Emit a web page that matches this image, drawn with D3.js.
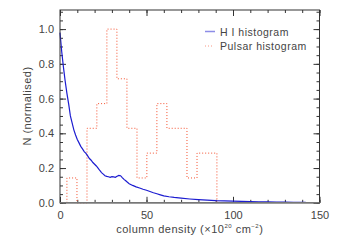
<!doctype HTML>
<html>
<head>
    <style>
        body { margin: 0; background: #fff; }
        text { font-family: "Liberation Sans", Arial, sans-serif; fill: #444; }
    </style>
    <script src="https://d3js.org/d3.v7.min.js"></script>
</head>
<body>
<div id="chart"></div>
<script>

    // H I histogram (column density, normalised N)
    var hiX = [0, 1, 2, 3, 4, 5, 6, 7, 8, 9, 10, 11, 12, 13, 14, 15, 16, 17, 18, 19, 20,
               21, 22, 23, 24, 25, 26, 27, 28, 29, 30, 31, 32, 33, 34, 35, 36, 37, 38, 39, 40,
               42, 44, 46, 48, 50, 52, 54, 56, 58, 60, 63, 66, 70, 75, 80, 85, 90, 95, 100,
               105, 110, 115, 120, 125, 130, 135, 140, 142];
    var hiN = [0.98, 0.87, 0.78, 0.70, 0.63, 0.57, 0.50, 0.46, 0.42, 0.39, 0.365, 0.345, 0.325, 0.31, 0.295, 0.285, 0.27, 0.255, 0.245, 0.232, 0.222,
               0.212, 0.20, 0.186, 0.174, 0.165, 0.156, 0.152, 0.15, 0.147, 0.151, 0.149, 0.147, 0.153, 0.158, 0.156, 0.145, 0.135, 0.127, 0.118, 0.11,
               0.10, 0.092, 0.085, 0.078, 0.072, 0.065, 0.058, 0.052, 0.046, 0.040, 0.035, 0.031, 0.027, 0.022, 0.018, 0.015, 0.012, 0.011, 0.010,
               0.008, 0.007, 0.006, 0.005, 0.004, 0.004, 0.003, 0.003, 0.002];

    // Pulsar histogram: bin edges and normalised counts
    var pulsarEdges = [4.0, 9.8, 15.6, 21.3, 27.1, 32.9, 38.7, 44.5, 50.2, 56.0, 61.8, 67.6, 73.4, 79.2, 84.9, 90.7];
    var pulsarN = [0.143, 0, 0.429, 0.571, 1.0, 0.714, 0.429, 0.143, 0.286, 0.571, 0.429, 0.429, 0.143, 0.286, 0.286];

    var xMajor = [0, 50, 100, 150];
    var yMajor = [0.0, 0.2, 0.4, 0.6, 0.8, 1.0];

    var canvasWidth = 346, canvasHeight = 241;
    var plotLeft = 60, plotRight = 319.5, plotTop = 10, plotBottom = 202.8;

    var svg = d3.select("#chart").append("svg")
        .attr("width", canvasWidth)
        .attr("height", canvasHeight);

    var x = d3.scaleLinear().domain([0, 150]).range([plotLeft, plotRight]);
    var y = d3.scaleLinear().domain([0, 1.11]).range([plotBottom, plotTop]);

    var xMinor = d3.range(0, 151, 10);
    var yMinor = d3.range(0, 1.11, 0.05);

    // axes with inward ticks
    function styleAxis(g) {
        g.select(".domain").remove();
        g.selectAll("line").attr("stroke", "#333");
        g.selectAll("text").attr("font-size", "11px").attr("fill", "#444")
            .attr("font-family", "Liberation Sans, Arial, sans-serif");
    }

    svg.append("g").attr("transform", `translate(0, ${plotBottom})`)
        .call(d3.axisBottom(x).tickValues(xMinor).tickSize(-3).tickFormat("")).call(styleAxis);
    svg.append("g").attr("transform", `translate(0, ${plotBottom})`)
        .call(d3.axisBottom(x).tickValues(xMajor).tickSize(-6).tickPadding(8).tickFormat(d3.format("d"))).call(styleAxis);
    svg.append("g").attr("transform", `translate(0, ${plotTop})`)
        .call(d3.axisTop(x).tickValues(xMinor).tickSize(-3).tickFormat("")).call(styleAxis);
    svg.append("g").attr("transform", `translate(0, ${plotTop})`)
        .call(d3.axisTop(x).tickValues(xMajor).tickSize(-6).tickFormat("")).call(styleAxis);

    svg.append("g").attr("transform", `translate(${plotLeft}, 0)`)
        .call(d3.axisLeft(y).tickValues(yMinor).tickSize(-3).tickFormat("")).call(styleAxis);
    svg.append("g").attr("transform", `translate(${plotLeft}, 0)`)
        .call(d3.axisLeft(y).tickValues(yMajor).tickSize(-6).tickPadding(6).tickFormat(d3.format(".1f"))).call(styleAxis);
    svg.append("g").attr("transform", `translate(${plotRight}, 0)`)
        .call(d3.axisRight(y).tickValues(yMinor).tickSize(-3).tickFormat("")).call(styleAxis);
    svg.append("g").attr("transform", `translate(${plotRight}, 0)`)
        .call(d3.axisRight(y).tickValues(yMajor).tickSize(-6).tickFormat("")).call(styleAxis);

    // pulsar histogram as a dotted step line
    var steps = [[pulsarEdges[0], 0]];
    pulsarN.forEach(function(v, i) {
        steps.push([pulsarEdges[i], v]);
        steps.push([pulsarEdges[i + 1], v]);
    });
    steps.push([pulsarEdges[pulsarEdges.length - 1], 0]);

    svg.append("path")
        .datum(steps)
        .attr("fill", "none")
        .attr("stroke", "#f4502e")
        .attr("stroke-width", 1)
        .attr("stroke-dasharray", "1,2")
        .attr("d", d3.line().x(d => x(d[0])).y(d => y(d[1])));

    // H I histogram
    svg.append("path")
        .datum(hiX.map((v, i) => [v, hiN[i]]))
        .attr("fill", "none")
        .attr("stroke", "#1c1cd0")
        .attr("stroke-width", 1.2)
        .attr("d", d3.line().x(d => x(d[0])).y(d => y(d[1])));

    // frame
    svg.append("rect")
        .attr("x", plotLeft).attr("y", plotTop)
        .attr("width", plotRight - plotLeft).attr("height", plotBottom - plotTop)
        .attr("fill", "none").attr("stroke", "#333").attr("stroke-width", 1);
    svg.append("line")
        .attr("x1", plotLeft).attr("x2", plotRight).attr("y1", plotBottom).attr("y2", plotBottom)
        .attr("stroke", "#777").attr("stroke-width", 1.6);

    // legend
    svg.append("line").attr("x1", 205).attr("x2", 215).attr("y1", 31.5).attr("y2", 31.5)
        .attr("stroke", "#1c1cd0").attr("stroke-opacity", 0.5).attr("stroke-width", 1.5);
    svg.append("line").attr("x1", 205).attr("x2", 214).attr("y1", 46).attr("y2", 46)
        .attr("stroke", "#f4502e").attr("stroke-opacity", 0.6).attr("stroke-dasharray", "1,2");
    svg.append("text").attr("x", 220).attr("y", 35.5).attr("font-size", "10.5px")
        .attr("letter-spacing", "0.5px").text("H I histogram");
    svg.append("text").attr("x", 220).attr("y", 49.5).attr("font-size", "10.5px")
        .attr("letter-spacing", "0.5px").text("Pulsar histogram");

    // axis titles
    var xt = svg.append("text")
        .attr("x", (plotLeft + plotRight) / 2).attr("y", 233)
        .attr("text-anchor", "middle").attr("font-size", "11px").attr("letter-spacing", "0.5px");
    xt.append("tspan").text("column density (\u00d710");
    xt.append("tspan").attr("font-size", "6px").attr("dy", -5).text("20");
    xt.append("tspan").attr("dy", 5).text(" cm");
    xt.append("tspan").attr("font-size", "6px").attr("dy", -5).text("\u22122");
    xt.append("tspan").attr("dy", 5).text(")");

    svg.append("text")
        .attr("transform", "translate(31, 106) rotate(-90)")
        .attr("text-anchor", "middle").attr("font-size", "11px").attr("letter-spacing", "0.5px")
        .text("N (normalised)");

</script>
</body>
</html>
